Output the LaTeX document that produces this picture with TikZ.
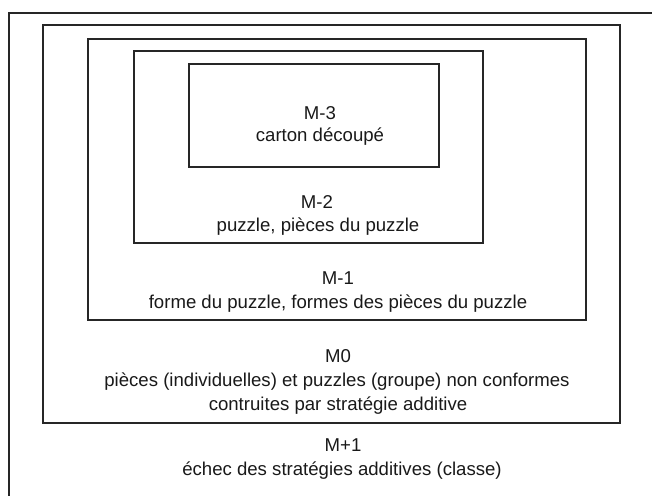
\documentclass[tikz,border=0pt]{standalone}
\usepackage{fontspec}
\setmainfont{Liberation Sans}
\begin{document}
\begin{tikzpicture}[x=1pt,y=-1pt,
  frame/.style={draw=black!85,line width=1.3pt,fill=none},
  lbl/.style={anchor=base,inner sep=0pt,font=\fontsize{18.6}{23}\selectfont,text=black!90}]
\useasboundingbox (0,0) rectangle (652,495);
\clip (0,0) rectangle (652,495);
% boxes
\coordinate (o1) at (9,13);
\coordinate (o2) at (700,540);
\draw[frame] (o1) rectangle (o2);
\node[frame,inner sep=0pt,minimum width=577pt,minimum height=398pt] (m0) at (331.5,224) {};
\node[frame,inner sep=0pt,minimum width=498pt,minimum height=281pt] (m1) at (337,179.5) {};
\node[frame,inner sep=0pt,minimum width=349pt,minimum height=192pt] (m2) at (308.5,147) {};
\node[frame,inner sep=0pt,minimum width=250pt,minimum height=103pt] (m3) at (314,115.5) {};
% labels
\node[lbl] (t3a) at (320,119) {M-3};
\node[lbl] (t3b) at (320,141) {carton découpé};
\node[lbl] (t2a) at (317,208) {M-2};
\node[lbl] (t2b) at (318,231.5) {puzzle, pièces du puzzle};
\node[lbl] (t1a) at (338,284) {M-1};
\node[lbl] (t1b) at (338,308) {forme du puzzle, formes des pièces du puzzle};
\node[lbl] (t0a) at (338,362) {M0};
\node[lbl] (t0b) at (337,386.5) {pièces (individuelles) et puzzles (groupe) non conformes};
\node[lbl] (t0c) at (338,410) {contruites par stratégie additive};
\node[lbl] (tpa) at (343,451.5) {M+1};
\node[lbl] (tpb) at (342,475) {échec des stratégies additives (classe)};
\end{tikzpicture}
\end{document}
